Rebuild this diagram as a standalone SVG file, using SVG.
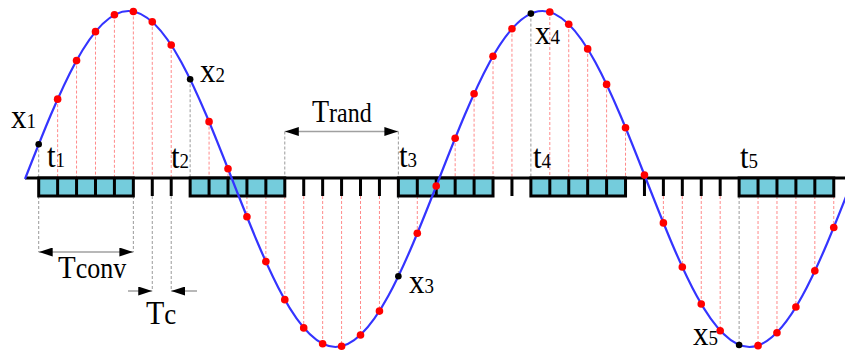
<svg xmlns="http://www.w3.org/2000/svg" width="845" height="352" viewBox="0 0 845 352">
<defs>
<style>
.red{stroke:#ff8a8a;stroke-width:1;stroke-dasharray:3 2;fill:none}
.gray{stroke:#9a9a9a;stroke-width:1;stroke-dasharray:3 2;fill:none}
.box{fill:#74ccdc;stroke:#000;stroke-width:3}
.blk{stroke:#000;stroke-width:3;fill:none}
.wave{fill:none;stroke:#3434ff;stroke-width:2.2}
.rd{fill:#ff0000}
.bd{fill:#000}
.arr{stroke:#a0a0a0;stroke-width:1.5;fill:none}
text{font-family:"Liberation Serif","Times New Roman",serif;fill:#000}
.big{font-size:31px}
.sub{font-size:19px}
</style>
<marker id="ah" viewBox="0 0 14 9" refX="14" refY="4.5" markerWidth="14" markerHeight="9" markerUnits="userSpaceOnUse" orient="auto-start-reverse">
<path d="M0,0 L14,4.5 L0,9 z" fill="#000"/>
</marker>
</defs>
<rect width="845" height="352" fill="#fff"/>
<g id="guides">
<g class="red">
<line x1="57.63" y1="99.17" x2="57.63" y2="178"/>
<line x1="76.56" y1="60.58" x2="76.56" y2="178"/>
<line x1="95.49" y1="31.63" x2="95.49" y2="178"/>
<line x1="114.42" y1="14.8" x2="114.42" y2="178"/>
<line x1="133.35" y1="11.45" x2="133.35" y2="178"/>
<line x1="152.28" y1="21.84" x2="152.28" y2="178"/>
<line x1="171.21" y1="44.99" x2="171.21" y2="178"/>
<line x1="209.07" y1="121.63" x2="209.07" y2="178"/>
<line x1="228" y1="168.8" x2="228" y2="178"/>
<line x1="246.93" y1="196" x2="246.93" y2="216.75"/>
<line x1="265.86" y1="196" x2="265.86" y2="261.59"/>
<line x1="284.79" y1="196" x2="284.79" y2="299.67"/>
<line x1="303.72" y1="196" x2="303.72" y2="327.88"/>
<line x1="322.65" y1="196" x2="322.65" y2="343.79"/>
<line x1="341.58" y1="196" x2="341.58" y2="346.28"/>
<line x1="360.51" y1="196" x2="360.51" y2="335.06"/>
<line x1="379.44" y1="196" x2="379.44" y2="311.08"/>
<line x1="417.3" y1="196" x2="417.3" y2="233.28"/>
<line x1="455.16" y1="138.21" x2="455.16" y2="178"/>
<line x1="474.09" y1="93.69" x2="474.09" y2="178"/>
<line x1="493.02" y1="56.18" x2="493.02" y2="178"/>
<line x1="511.95" y1="28.76" x2="511.95" y2="178"/>
<line x1="549.81" y1="12.04" x2="549.81" y2="178"/>
<line x1="568.74" y1="24.19" x2="568.74" y2="178"/>
<line x1="587.67" y1="48.88" x2="587.67" y2="178"/>
<line x1="606.6" y1="84.42" x2="606.6" y2="178"/>
<line x1="625.53" y1="127.73" x2="625.53" y2="178"/>
<line x1="663.39" y1="196" x2="663.39" y2="222.9"/>
<line x1="682.32" y1="196" x2="682.32" y2="266.98"/>
<line x1="701.25" y1="196" x2="701.25" y2="304.03"/>
<line x1="720.18" y1="196" x2="720.18" y2="330.82"/>
<line x1="758.04" y1="196" x2="758.04" y2="345.64"/>
<line x1="776.97" y1="196" x2="776.97" y2="332.77"/>
<line x1="795.9" y1="196" x2="795.9" y2="306.97"/>
<line x1="814.83" y1="196" x2="814.83" y2="270.86"/>
<line x1="833.76" y1="196" x2="833.76" y2="227.48"/>
</g>
<g class="gray">
<line x1="38.7" y1="144.32" x2="38.7" y2="178"/>
<line x1="38.7" y1="196" x2="38.7" y2="252"/>
<line x1="133.35" y1="196" x2="133.35" y2="252"/>
<line x1="152.28" y1="196" x2="152.28" y2="291"/>
<line x1="171.21" y1="196" x2="171.21" y2="291"/>
<line x1="190.14" y1="79.26" x2="190.14" y2="178"/>
<line x1="284.79" y1="131.5" x2="284.79" y2="178"/>
<line x1="398.37" y1="131.5" x2="398.37" y2="178"/>
<line x1="398.37" y1="196" x2="398.37" y2="276.2"/>
<line x1="530.88" y1="13.59" x2="530.88" y2="178"/>
<line x1="739.11" y1="196" x2="739.11" y2="344.93"/>
</g>
</g>
<g id="timeline">
<line class="blk" x1="25" y1="178" x2="845" y2="178"/>
<g id="conv1"><rect class="box" x="38.7" y="178" width="94.65" height="18"/><path class="blk" d="M57.63,178V196M76.56,178V196M95.49,178V196M114.42,178V196"/></g>
<g id="conv2"><rect class="box" x="190.14" y="178" width="94.65" height="18"/><path class="blk" d="M209.07,178V196M228,178V196M246.93,178V196M265.86,178V196"/></g>
<g id="conv3"><rect class="box" x="398.37" y="178" width="94.65" height="18"/><path class="blk" d="M417.3,178V196M436.23,178V196M455.16,178V196M474.09,178V196"/></g>
<g id="conv4"><rect class="box" x="530.88" y="178" width="94.65" height="18"/><path class="blk" d="M549.81,178V196M568.74,178V196M587.67,178V196M606.6,178V196"/></g>
<g id="conv5"><rect class="box" x="739.11" y="178" width="94.65" height="18"/><path class="blk" d="M758.04,178V196M776.97,178V196M795.9,178V196M814.83,178V196"/></g>
<path id="ticks" class="blk" d="M152.28,178V196M171.21,178V196M303.72,178V196M322.65,178V196M341.58,178V196M360.51,178V196M379.44,178V196M511.95,178V196M644.46,178V196M663.39,178V196M682.32,178V196M701.25,178V196M720.18,178V196"/>
</g>
<path id="wave" class="wave" d="M25,179 C59.6,90.78 91.25,11 128.5,11 C165.75,11 197.4,90.78 232,179 C266.6,267.22 298.25,347 335.5,347 C372.75,347 404.4,267.22 439,179 C473.6,90.78 505.25,11 542.5,11 C579.75,11 611.4,90.78 646,179 C680.6,267.22 712.25,347 749.5,347 C786.75,347 818.4,267.22 853,179"/>
<g id="samples" class="rd">
<circle cx="57.63" cy="99.17" r="3.8"/><circle cx="76.56" cy="60.58" r="3.8"/><circle cx="95.49" cy="31.63" r="3.8"/><circle cx="114.42" cy="14.8" r="3.8"/><circle cx="133.35" cy="11.45" r="3.8"/><circle cx="152.28" cy="21.84" r="3.8"/><circle cx="171.21" cy="44.99" r="3.8"/><circle cx="209.07" cy="121.63" r="3.8"/><circle cx="228" cy="168.8" r="3.8"/><circle cx="246.93" cy="216.75" r="3.8"/><circle cx="265.86" cy="261.59" r="3.8"/><circle cx="284.79" cy="299.67" r="3.8"/><circle cx="303.72" cy="327.88" r="3.8"/><circle cx="322.65" cy="343.79" r="3.8"/><circle cx="341.58" cy="346.28" r="3.8"/><circle cx="360.51" cy="335.06" r="3.8"/><circle cx="379.44" cy="311.08" r="3.8"/><circle cx="417.3" cy="233.28" r="3.8"/><circle cx="436.23" cy="186.06" r="3.8"/><circle cx="455.16" cy="138.21" r="3.8"/><circle cx="474.09" cy="93.69" r="3.8"/><circle cx="493.02" cy="56.18" r="3.8"/><circle cx="511.95" cy="28.76" r="3.8"/><circle cx="549.81" cy="12.04" r="3.8"/><circle cx="568.74" cy="24.19" r="3.8"/><circle cx="587.67" cy="48.88" r="3.8"/><circle cx="606.6" cy="84.42" r="3.8"/><circle cx="625.53" cy="127.73" r="3.8"/><circle cx="644.46" cy="175.09" r="3.8"/><circle cx="663.39" cy="222.9" r="3.8"/><circle cx="682.32" cy="266.98" r="3.8"/><circle cx="701.25" cy="304.03" r="3.8"/><circle cx="720.18" cy="330.82" r="3.8"/><circle cx="758.04" cy="345.64" r="3.8"/><circle cx="776.97" cy="332.77" r="3.8"/><circle cx="795.9" cy="306.97" r="3.8"/><circle cx="814.83" cy="270.86" r="3.8"/><circle cx="833.76" cy="227.48" r="3.8"/>
</g>
<g id="points" class="bd">
<circle id="p1" cx="38.7" cy="144.32" r="3.3"/><circle id="p2" cx="190.14" cy="79.26" r="3.3"/><circle id="p3" cx="398.37" cy="276.2" r="3.3"/><circle id="p4" cx="530.88" cy="13.59" r="3.3"/><circle id="p5" cx="739.11" cy="344.93" r="3.3"/>
</g>
<g id="connectors">
<line class="arr" x1="284.79" y1="131.5" x2="398.37" y2="131.5" marker-start="url(#ah)" marker-end="url(#ah)"/>
<line class="arr" x1="38.7" y1="252" x2="133.35" y2="252" marker-start="url(#ah)" marker-end="url(#ah)"/>
<line class="arr" x1="128" y1="291" x2="152.28" y2="291" marker-end="url(#ah)"/>
<line class="arr" x1="197" y1="291" x2="171.21" y2="291" marker-end="url(#ah)"/>
</g>
<g id="labels">
<text transform="translate(11,128) scale(1,1.12)"><tspan class="big">x</tspan><tspan class="sub">1</tspan></text>
<text transform="translate(200,82) scale(1,1.12)"><tspan class="big">x</tspan><tspan class="sub">2</tspan></text>
<text transform="translate(409,293) scale(1,1.12)"><tspan class="big">x</tspan><tspan class="sub">3</tspan></text>
<text transform="translate(535,44) scale(1,1.12)"><tspan class="big">x</tspan><tspan class="sub">4</tspan></text>
<text transform="translate(693,345) scale(1,1.1)"><tspan class="big">x</tspan><tspan class="sub">5</tspan></text>
<text transform="translate(47,167) scale(1,1.12)"><tspan class="big">t</tspan><tspan class="sub">1</tspan></text>
<text transform="translate(171,168) scale(1,1.12)"><tspan class="big">t</tspan><tspan class="sub">2</tspan></text>
<text transform="translate(399,167) scale(1,1.12)"><tspan class="big">t</tspan><tspan class="sub">3</tspan></text>
<text transform="translate(533,168) scale(1,1.12)"><tspan class="big">t</tspan><tspan class="sub">4</tspan></text>
<text transform="translate(740,168) scale(1,1.12)"><tspan class="big">t</tspan><tspan class="sub">5</tspan></text>
<text transform="translate(312,122) scale(1,1.12)"><tspan style="font-size:28px">T</tspan><tspan style="font-size:24px">rand</tspan></text>
<text transform="translate(58,278) scale(1,1.12)"><tspan style="font-size:29px">T</tspan><tspan style="font-size:26px">conv</tspan></text>
<text transform="translate(146,324) scale(1,1.12)"><tspan style="font-size:30px">T</tspan><tspan style="font-size:27px">c</tspan></text>
</g>
</svg>
